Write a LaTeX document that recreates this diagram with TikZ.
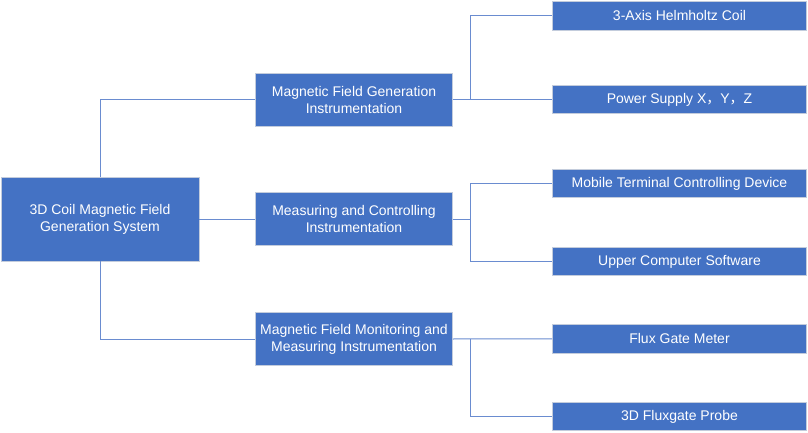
\documentclass[tikz,border=0pt]{standalone}
\usepackage{fontspec}
\setmainfont{Liberation Sans}
\newfontfamily\cjkfont{Noto Sans CJK SC}
\definecolor{boxblue}{HTML}{4472C4}
\definecolor{boxedge}{HTML}{C3CCDC}
\definecolor{linkblue}{HTML}{6A8CD0}
\begin{document}
\begin{tikzpicture}[x=1pt,y=-1pt,
  box/.style={rectangle,fill=boxblue,draw=boxedge,line width=0.8pt,text=white,
    align=center,inner sep=0pt,font=\fontsize{14}{17}\selectfont},
  rootbox/.style={box,minimum width=198pt,minimum height=84pt},
  midbox/.style={box,minimum width=197pt,minimum height=53pt},
  leafbox/.style={box,minimum width=254pt,minimum height=28.5pt},
  link/.style={draw=linkblue,line width=1pt}]
\useasboundingbox (0,0) rectangle (808,432);
\node[rootbox] (root) at (100,219) {3D Coil Magnetic Field\\Generation System};
\node[midbox] (m1) at (354,99.5) {Magnetic Field Generation\\Instrumentation};
\node[midbox] (m2) at (354,219) {Measuring and Controlling\\Instrumentation};
\node[midbox] (m3) at (354,339) {Magnetic Field Monitoring and\\Measuring Instrumentation};
\node[leafbox] (l1) at (679.5,15.8) {3-Axis Helmholtz Coil};
\node[leafbox] (l2) at (679.5,99.5) {Power Supply X{\cjkfont ，}Y{\cjkfont ，}Z};
\node[leafbox] (l3) at (679.5,183.5) {Mobile Terminal Controlling Device};
\node[leafbox] (l4) at (679.5,261.5) {Upper Computer Software};
\node[leafbox] (l5) at (679.5,338.8) {Flux Gate Meter};
\node[leafbox] (l6) at (679.5,416.5) {3D Fluxgate Probe};
\coordinate (j1) at (470,99.5);
\coordinate (j2) at (470,219);
\coordinate (j3) at (470,338.8);
\draw[link] (root.north) |- (m1.west);
\draw[link] (root.east) -- (m2.west);
\draw[link] (root.south) |- (m3.west);
\draw[link] (m1.east) -- (j1) |- (l1.west);
\draw[link] (j1) -- (l2.west);
\draw[link] (m2.east) -- (j2) |- (l3.west);
\draw[link] (j2) |- (l4.west);
\draw[link] (m3.east) -- (j3) -- (l5.west);
\draw[link] (j3) |- (l6.west);
\end{tikzpicture}
\end{document}
